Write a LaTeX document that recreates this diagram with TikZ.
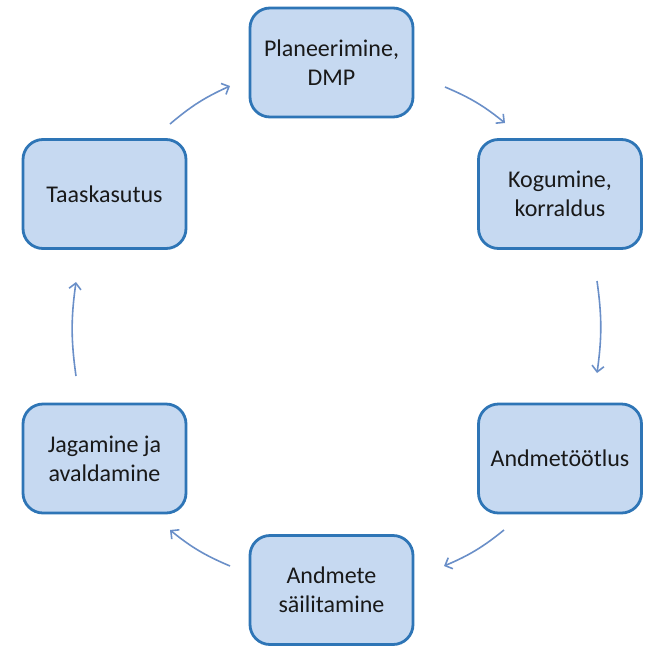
\documentclass[tikz,border=0pt]{standalone}
\usepackage{fontspec}
\setmainfont{Carlito}
\usetikzlibrary{arrows.meta}
\definecolor{boxfill}{HTML}{C6D9F1}
\definecolor{boxline}{HTML}{2E75B6}
\definecolor{arrowcol}{HTML}{6A8FC8}
\begin{document}
\begin{tikzpicture}[x=1pt,y=-1pt,
  stepbox/.style={draw=boxline, line width=2.8pt, fill=boxfill, rounded corners=20pt,
    minimum width=163pt, minimum height=109pt, align=center, inner sep=2pt,
    font=\fontsize{24}{29}\selectfont, text=black!90},
  flow/.style={draw=arrowcol, line width=1.6pt, -{Straight Barb[length=6pt,width=12pt]}, bend left=8}]
\useasboundingbox (0,0) rectangle (671,667);
\node[stepbox] (plan) at (331.5,62.5) {Planeerimine,\\DMP};
\node[stepbox] (kog) at (560,194) {Kogumine,\\korraldus};
\node[stepbox] (tot) at (560,458.5) {Andmetöötlus};
\node[stepbox] (sai) at (331.5,590) {Andmete\\säilitamine};
\node[stepbox] (jag) at (104.5,458.5) {Jagamine ja\\avaldamine};
\node[stepbox] (taa) at (104.5,194) {Taaskasutus};
\coordinate (a1) at (445,87);
\coordinate (b1) at (505,123);
\coordinate (a2) at (597,281);
\coordinate (b2) at (597,373);
\coordinate (a3) at (504,530);
\coordinate (b3) at (444,566);
\coordinate (a4) at (230,566);
\coordinate (b4) at (170,530);
\coordinate (a5) at (76,376);
\coordinate (b5) at (76,282);
\coordinate (a6) at (170,124);
\coordinate (b6) at (230,86);
\draw[flow] (a1) to (b1);
\draw[flow] (a2) to (b2);
\draw[flow] (a3) to (b3);
\draw[flow] (a4) to (b4);
\draw[flow] (a5) to (b5);
\draw[flow] (a6) to (b6);
\end{tikzpicture}
\end{document}
